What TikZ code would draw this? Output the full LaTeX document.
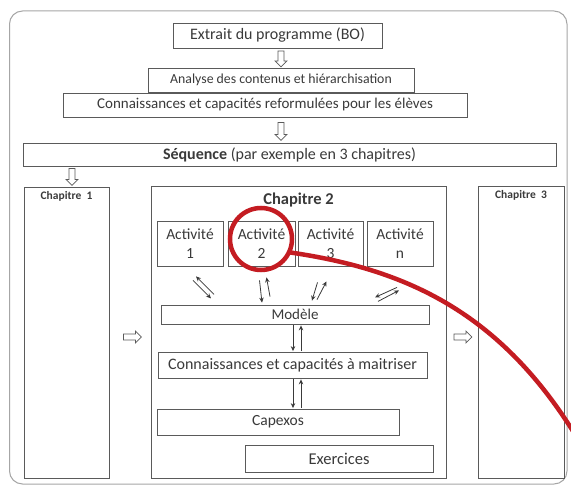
\documentclass[tikz,border=0pt]{standalone}
\usepackage{fontspec}
\setmainfont{Carlito}
\usetikzlibrary{shapes.arrows,calc,arrows.meta}
\definecolor{txt}{HTML}{3A3A3A}
\definecolor{ln}{HTML}{5A5A5A}
\definecolor{redc}{RGB}{196,28,34}
\begin{document}
\begin{tikzpicture}[x=1pt,y=-1pt,
  box/.style={draw=ln,line width=0.8pt,fill=white,inner sep=0pt,text=txt,align=center},
  harr/.style={draw=ln,line width=0.7pt,fill=white,shape=single arrow,inner sep=2.6pt,
     single arrow head extend=3pt,single arrow head indent=0pt,minimum width=11.5pt},
  thin/.style={draw=txt,line width=0.8pt,-{Stealth[length=5pt,width=4.5pt]}},
  chap/.style={text=txt,font=\bfseries\fontsize{11.5}{13}\selectfont,inner sep=0pt}]
\clip (0,0) rectangle (571,487);
\fill[white] (0,0) rectangle (571,487);
\draw[draw=gray!70,line width=1pt,rounded corners=13pt] (9.5,11) rectangle (567,484);
% top boxes
\node[box,minimum width=209pt,minimum height=25pt,font=\fontsize{16}{18}\selectfont] (ext) at (277.5,35.5) {Extrait du programme (BO)};
\node[box,minimum width=266pt,minimum height=24pt,font=\fontsize{13.8}{15}\selectfont] (ana) at (281,80) {Analyse des contenus et hiérarchisation};
\node[box,minimum width=404pt,minimum height=24pt,font=\fontsize{15}{17}\selectfont] (con) at (265,105) {Connaissances et capacités reformulées pour les élèves};
\node[box,minimum width=533pt,minimum height=23pt,font=\fontsize{16}{18}\selectfont] (seq) at (289.5,154.5) {\textbf{Séquence} (par exemple en 3 chapitres)};
% chapters
\node[box,minimum width=85pt,minimum height=291pt] (ch1) at (66.5,332.5) {};
\node[box,minimum width=295pt,minimum height=292pt] (ch2) at (298.5,332) {};
\node[box,minimum width=86pt,minimum height=292pt] (ch3) at (521,332) {};
\node[chap] (t1) at ($(ch1.north)+(0,10)$) {Chapitre~~1};
\node[chap] (t3) at ($(ch3.north)+(0,10)$) {Chapitre~~3};
\node[chap,font=\bfseries\fontsize{16.5}{18}\selectfont] (t2) at ($(ch2.north)+(0,14)$) {Chapitre 2};
% activities
\foreach \n/\x/\w/\l in {a1/190/66/1,a2/261.5/67/2,a3/330.5/65/3,an/400/66/n}{
  \node[box,minimum width=\w pt,minimum height=45pt,font=\fontsize{15.5}{19}\selectfont] (\n) at (\x,243.5) {Activité\\\l};
}
\node[box,minimum width=268pt,minimum height=19pt,font=\fontsize{15}{17}\selectfont] (mod) at (295,314.5) {Modèle};
\node[box,minimum width=269pt,minimum height=26pt,font=\fontsize{16}{18}\selectfont] (cap) at (292.5,365) {Connaissances et capacités à maitriser};
\node[box,minimum width=242pt,minimum height=26pt,font=\fontsize{15.5}{18}\selectfont] (cpx) at (278,422) {Capexos};
\node[box,minimum width=188pt,minimum height=27pt,font=\fontsize{16.5}{18}\selectfont] (exo) at (339,458.5) {Exercices};
% hollow arrows
\node[harr,shape border rotate=270,minimum height=16pt] (h1) at (281,57.5) {};
\node[harr,shape border rotate=270,minimum height=18pt] (h2) at (281,130) {};
\node[harr,shape border rotate=270,minimum height=17pt] (h3) at (72,175.5) {};
\node[harr,minimum height=18pt] (h4) at (131,337) {};
\node[harr,minimum height=18pt] (h5) at (461.5,337) {};
% thin double arrows activities <-> modele
\draw[thin] ($(a1.south)+(3,14)$) -- ($(a1.south)+(21,32)$);
\draw[thin] ($(a1.south)+(24,28)$) -- ($(a1.south)+(6,10)$);
\draw[thin] ($(a2.south)+(-2,14)$) -- ($(mod.north)+(-33,-2)$);
\draw[thin] ($(mod.north)+(-25,-8)$) -- ($(a2.south)+(5,11)$);
\draw[thin] ($(a3.south)+(-13,16)$) -- ($(mod.north)+(17,-4)$);
\draw[thin] ($(mod.north)+(22,-5)$) -- ($(a3.south)+(-4,15)$);
\draw[thin] ($(an.south)+(-3,21)$) -- ($(an.south)+(-25,31)$);
\draw[thin] ($(an.south)+(-22,35)$) -- ($(an.south)+(-1,24)$);
% modele <-> cap <-> capexos
\draw[thin] ($(mod.south)+(-2,0.5)$) -- ($(cap.north)+(0.5,-0.5)$);
\draw[thin] ($(cap.north)+(8.5,-0.5)$) -- ($(mod.south)+(6,1)$);
\draw[thin] ($(cap.south)+(0.5,0.5)$) -- ($(cpx.north)+(15,-0.5)$);
\draw[thin] ($(cpx.north)+(23,-0.5)$) -- ($(cap.south)+(8.5,1)$);
% red highlight
\draw[redc,line width=4.5pt] (261,239) circle (31pt);
\draw[redc,line width=4.5pt] (290.5,252.5) .. controls (410,270) and (510,315) .. (590,460);
\end{tikzpicture}
\end{document}
